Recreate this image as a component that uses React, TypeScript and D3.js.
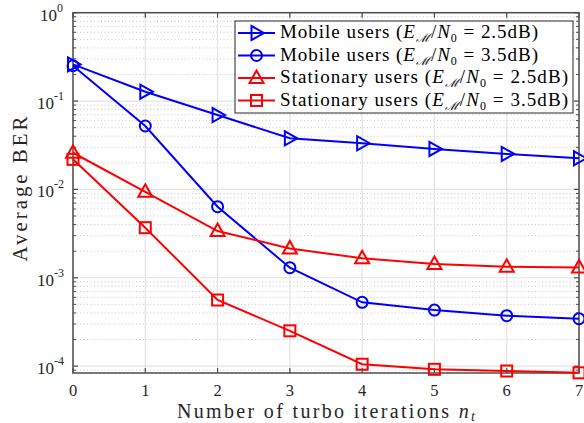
import React from "react";
import * as d3 from "d3";

const iterations = [0, 1, 2, 3, 4, 5, 6, 7];
const mobile25 = [0.26, 0.1276, 0.0695, 0.0379, 0.0333, 0.0287, 0.0252, 0.0225];
const mobile35 = [0.251, 0.0522, 0.00637, 0.0013, 0.000527, 0.000431, 0.000372, 0.000344];
const stationary25 = [0.026, 0.0094, 0.00338, 0.00215, 0.00166, 0.00143, 0.00133, 0.00131];
const stationary35 = [0.0219, 0.00369, 0.00056, 0.000251, 0.000105, 0.000092, 0.000088, 0.000084];
const xTicks = [0, 1, 2, 3, 4, 5, 6, 7];
const yTickExps = [0, -1, -2, -3, -4];
const seriesNames = ["Mobile users", "Mobile users", "Stationary users", "Stationary users"];
const seriesSnr = ["2.5", "3.5", "2.5", "3.5"];

const W = 584, H = 423;
const L = 73, R = 579, T = 12.7, B = 373;
const FONT = "'Liberation Serif', 'DejaVu Serif', serif";

type Series = { values: number[]; color: string; marker: string };
const series: Series[] = [
  { values: mobile25, color: "#0000ff", marker: "triRight" },
  { values: mobile35, color: "#0000ff", marker: "circle" },
  { values: stationary25, color: "#ff0000", marker: "triUp" },
  { values: stationary35, color: "#ff0000", marker: "square" },
];

function Marker({ kind, x, y, color }: { kind: string; x: number; y: number; color: string }) {
  const sw = 2;
  if (kind === "circle") return <circle cx={x} cy={y} r={5.5} fill="none" stroke={color} strokeWidth={sw} />;
  if (kind === "square") return <rect x={x - 5.5} y={y - 5.5} width={11} height={11} fill="none" stroke={color} strokeWidth={sw} />;
  if (kind === "triUp")
    return <path d={`M${x},${y - 7.5}L${x + 7},${y + 5}L${x - 7},${y + 5}Z`} fill="none" stroke={color} strokeWidth={sw} strokeLinejoin="miter" />;
  return <path d={`M${x + 7.5},${y}L${x - 5},${y - 7}L${x - 5},${y + 7}Z`} fill="none" stroke={color} strokeWidth={sw} />;
}

export default function App() {
  const x = d3.scaleLinear().domain([0, 7]).range([L, R]);
  const y = d3.scaleLog().domain([8.36e-5, 1]).range([B, T]);
  const line = d3
    .line<number>()
    .x((_, i) => x(iterations[i]))
    .y((d) => y(d));

  const minors: number[] = [];
  for (let e = -5; e < 0; e++) {
    for (let k = 2; k <= 9; k++) {
      const v = k * Math.pow(10, e);
      if (v >= 8.36e-5 && v < 1) minors.push(v);
    }
  }
  const axisColor = "#4d4d4d";

  return (
    <svg width={W} height={H} style={{ position: "absolute", left: 0, top: 0, background: "#fff" }} fontFamily={FONT}>
      <rect x={0} y={0} width={W} height={H} fill="#fff" />
      {/* minor grid */}
      {minors.map((v, i) => (
        <line key={"mg" + i} x1={L} x2={R} y1={y(v)} y2={y(v)} stroke="#c8c8c8" strokeWidth={1} strokeDasharray="1,2.5" />
      ))}
      {/* major grid */}
      {yTickExps.map((e) => (
        <line key={"yg" + e} x1={L} x2={R} y1={y(Math.pow(10, e))} y2={y(Math.pow(10, e))} stroke="#e3e3e3" strokeWidth={1.2} />
      ))}
      {xTicks.map((t) => (
        <line key={"xg" + t} x1={x(t)} x2={x(t)} y1={T} y2={B} stroke="#e3e3e3" strokeWidth={1.2} />
      ))}
      {/* axes box */}
      <rect x={L} y={T} width={R - L} height={B - T} fill="none" stroke={axisColor} strokeWidth={1.5} />
      {/* ticks */}
      {xTicks.map((t) => (
        <g key={"xt" + t}>
          <line x1={x(t)} x2={x(t)} y1={B} y2={B - 5} stroke={axisColor} strokeWidth={1.2} />
          <line x1={x(t)} x2={x(t)} y1={T} y2={T + 5} stroke={axisColor} strokeWidth={1.2} />
          <text x={x(t)} y={396} fontSize={16.5} textAnchor="middle" fill="#262626">
            {t}
          </text>
        </g>
      ))}
      {yTickExps.map((e) => {
        const yy = y(Math.pow(10, e));
        return (
          <g key={"yt" + e}>
            <line x1={L} x2={L + 5} y1={yy} y2={yy} stroke={axisColor} strokeWidth={1.2} />
            <line x1={R} x2={R - 5} y1={yy} y2={yy} stroke={axisColor} strokeWidth={1.2} />
            <text x={e === 0 ? 57 : 54} y={yy + 8} fontSize={17} textAnchor="end" fill="#262626">
              10
            </text>
            <text x={e === 0 ? 57 : 54} y={yy - 1} fontSize={12} textAnchor="start" fill="#262626">
              {e}
            </text>
          </g>
        );
      })}
      {minors.map((v, i) => (
        <g key={"mt" + i}>
          <line x1={L} x2={L + 3} y1={y(v)} y2={y(v)} stroke={axisColor} strokeWidth={1} />
          <line x1={R} x2={R - 3} y1={y(v)} y2={y(v)} stroke={axisColor} strokeWidth={1} />
        </g>
      ))}
      {/* series */}
      <g>
        {series.map((s, si) => (
          <g key={"s" + si}>
            <path d={line(s.values) || ""} fill="none" stroke={s.color} strokeWidth={2} />
            {s.values.map((v, i) => (
              <Marker key={i} kind={s.marker} x={x(iterations[i])} y={y(v)} color={s.color} />
            ))}
          </g>
        ))}
      </g>
      {/* legend */}
      <rect x={235} y={21} width={338} height={92} fill="#fff" stroke="#262626" strokeWidth={1} />
      {series.map((s, i) => {
        const ry = 33 + i * 22.5;
        const tl = seriesNames[i].startsWith("Mobile") ? 258 : 288;
        return (
          <g key={"lg" + i}>
            <line x1={238} x2={275} y1={ry} y2={ry} stroke={s.color} strokeWidth={2} />
            <Marker kind={s.marker} x={256.5} y={ry} color={s.color} />
            <text x={280} y={ry + 5} fontSize={19} fill="#000" textLength={tl} lengthAdjust="spacing">
              {seriesNames[i]} (<tspan fontStyle="italic">E</tspan>
              <tspan fontSize={12} dy={4} fontStyle="italic">ℳ</tspan>
              <tspan dy={-4}>/</tspan>
              <tspan fontStyle="italic">N</tspan>
              <tspan fontSize={12} dy={4}>0</tspan>
              <tspan dy={-4}> = {seriesSnr[i]}dB)</tspan>
            </text>
          </g>
        );
      })}
      {/* axis labels */}
      <text x={(L + R) / 2} y={418} fontSize={20} textAnchor="middle" fill="#262626" textLength={298} lengthAdjust="spacing">
        Number of turbo iterations <tspan fontStyle="italic">n</tspan>
        <tspan fontSize={14} dy={3} fontStyle="italic">t</tspan>
      </text>
      <text transform={`translate(27,189) rotate(-90)`} fontSize={21} textAnchor="middle" fill="#262626" textLength={145} lengthAdjust="spacing">
        Average BER
      </text>
    </svg>
  );
}
